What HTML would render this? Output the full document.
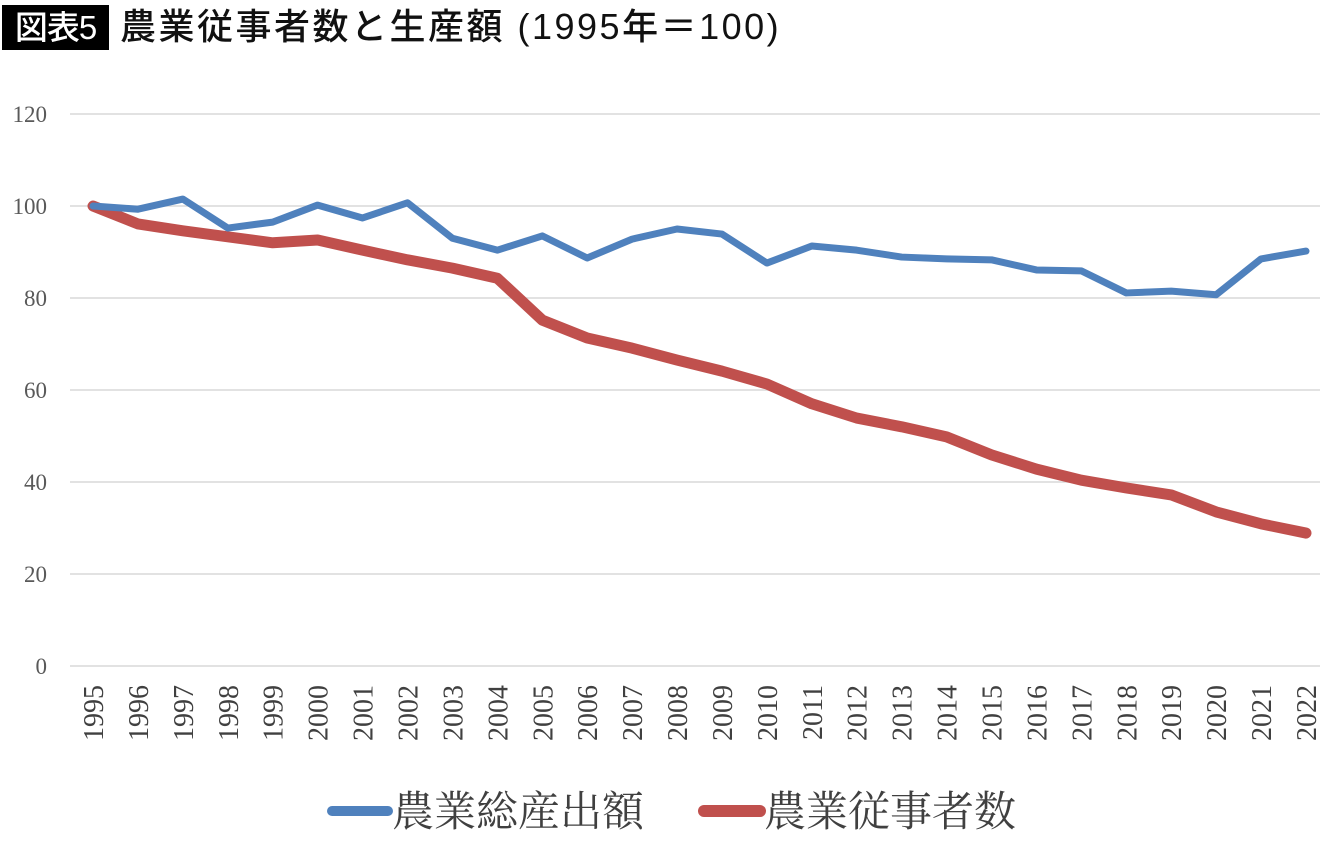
<!DOCTYPE html>
<html><head><meta charset="utf-8"><style>
body{margin:0;background:#fff;width:1340px;height:842px;overflow:hidden;font-family:"Liberation Sans","Noto Sans CJK JP",sans-serif}
#title-box{position:absolute;left:2px;top:5px;width:107px;height:45px;background:#000;color:#fff;font-size:33px;font-weight:500;line-height:45px;text-align:center;letter-spacing:-1px}
#title{position:absolute;left:120px;top:4px;font-size:36px;font-weight:500;line-height:45px;color:#111;letter-spacing:2.5px}
</style></head><body>
<div id="title-box">図表5</div>
<div id="title">農業従事者数と生産額 (1995年＝100)</div>
<svg id="chart" width="1340" height="842" style="position:absolute;left:0;top:0"></svg>
<script>
const years=[1995,1996,1997,1998,1999,2000,2001,2002,2003,2004,2005,2006,2007,2008,2009,2010,2011,2012,2013,2014,2015,2016,2017,2018,2019,2020,2021,2022];
const outputValues=[100,99.3,101.5,95.2,96.5,100.2,97.4,100.7,93,90.4,93.5,88.7,92.8,95,93.9,87.6,91.3,90.4,88.9,88.5,88.3,86.1,85.9,81.1,81.5,80.7,88.5,90.2];
const workerValues=[100,96.1,94.6,93.3,92,92.6,90.4,88.3,86.5,84.3,75.2,71.3,69.1,66.5,64.1,61.3,57,53.9,52,49.8,45.9,42.8,40.4,38.7,37.2,33.5,30.9,28.9];
const yTicks=[0,20,40,60,80,100,120];
const seriesNames=["農業総産出額","農業従事者数"];
const NS="http://www.w3.org/2000/svg";
const svg=document.getElementById('chart');
const x=i=>93+i*(1306-93)/(years.length-1);
const y=v=>666-v*(666-114)/120;
function mk(t,a,p){const e=document.createElementNS(NS,t);for(const k in a)e.setAttribute(k,a[k]);(p||svg).appendChild(e);return e;}
yTicks.forEach(v=>{
  const l=mk('line',{x1:70,x2:1320,y1:y(v),y2:y(v),stroke:'#d9d9d9','stroke-width':1.5});
  
  
  const t=mk('text',{x:47,y:y(v)+8,'text-anchor':'end','font-size':23,fill:'#595959','font-family':'Liberation Serif, serif'});
  t.textContent=v;
  
  
});
years.forEach((yr,i)=>{
  const t=mk('text',{transform:`translate(${x(i)+10},${685}) rotate(-90)`,'text-anchor':'end','font-size':28,fill:'#404040','font-family':'Liberation Serif, serif'});
  t.textContent=yr;
  
  
});
function series(vals,color,w,name){
  const p=mk('polyline',{points:vals.map((v,i)=>x(i)+','+y(v)).join(' '),fill:'none',stroke:color,'stroke-width':w,'stroke-linejoin':'round','stroke-linecap':'round'});
  
  
}
series(workerValues,'#c0504d',11,'series-workers');
series(outputValues,'#4f81bd',7,'series-output');
function legend(lx,color,w,label,name){
  const g=mk('g',{});
  
  
  mk('line',{x1:lx,x2:lx+56,y1:811,y2:811,stroke:color,'stroke-width':w,'stroke-linecap':'round'},g);
  const t=mk('text',{x:lx+60,y:826,'font-size':42,fill:'#404040','font-family':'Liberation Serif, Noto Serif CJK SC, serif'},g);
  t.textContent=label;
}
legend(332,'#4f81bd',10,seriesNames[0],'legend-output');
legend(704,'#c0504d',12,seriesNames[1],'legend-workers');
</script>
</body></html>
